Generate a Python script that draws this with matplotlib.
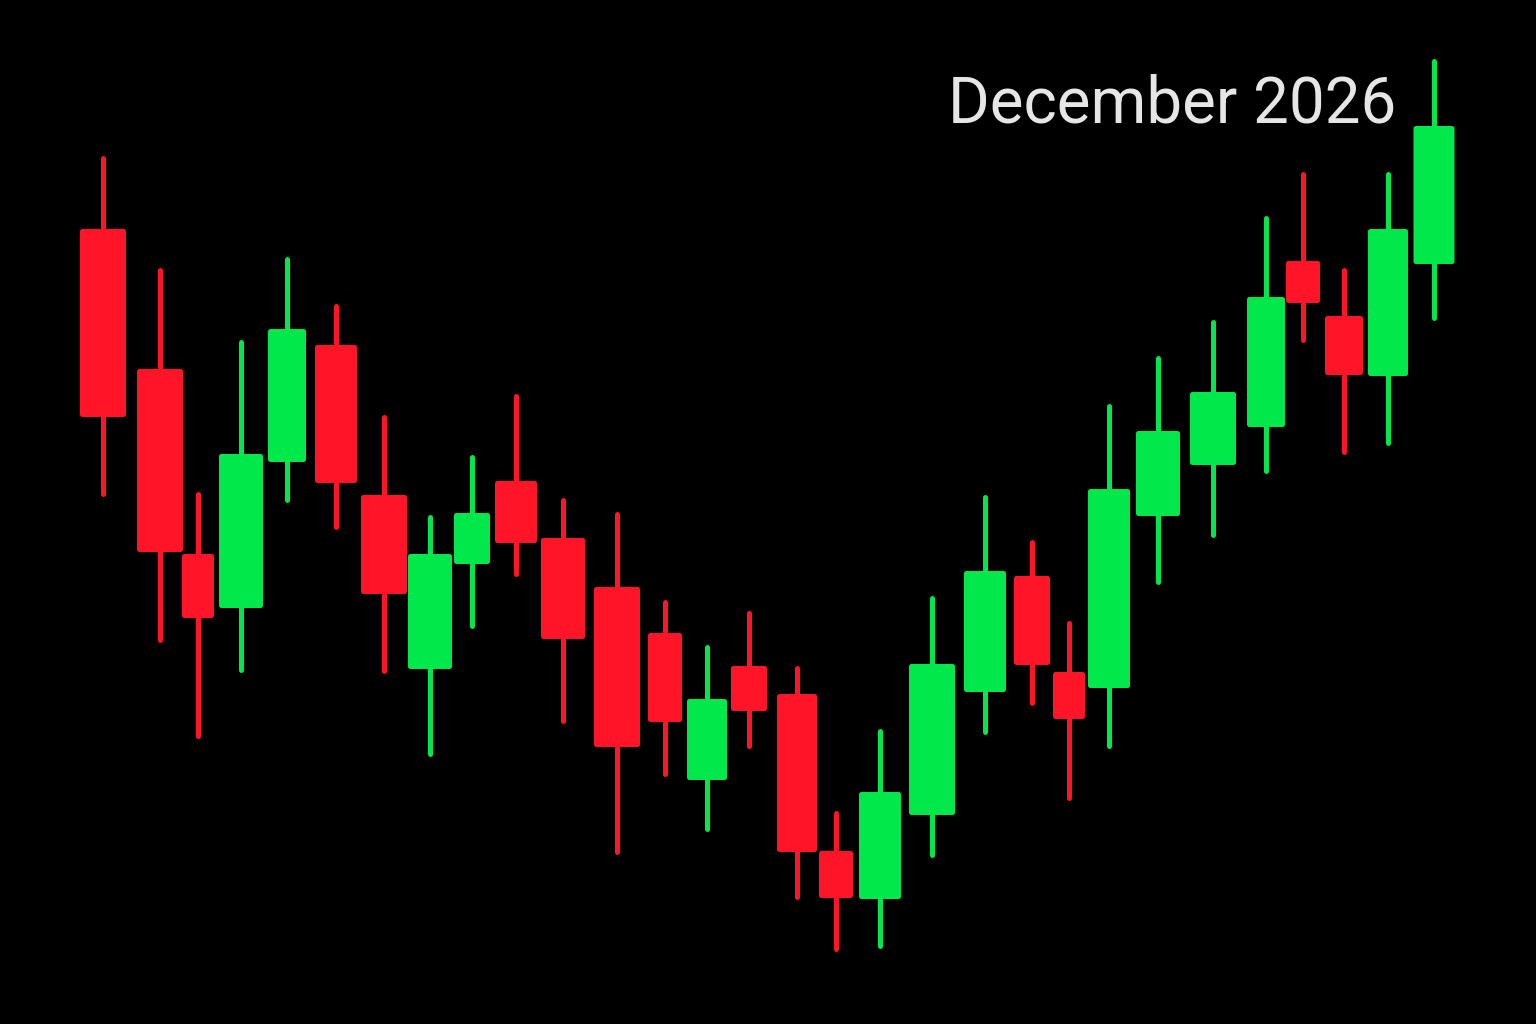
import matplotlib
matplotlib.use("Agg")
import matplotlib.pyplot as plt
from matplotlib.patches import FancyBboxPatch

# Candle positions (x), body widths, and OHLC prices
x_pos = [10.3, 16.0, 19.8, 24.1, 28.7, 33.6, 38.4, 43.0, 47.2, 51.6,
         56.3, 61.7, 66.5, 70.7, 74.9, 79.7, 83.6, 88.0, 93.2, 98.5,
         103.2, 106.9, 110.9, 115.8, 121.3, 126.6, 130.3, 134.4, 138.8, 143.4]
widths = [4.6, 4.6, 3.2, 4.4, 3.8, 4.2, 4.6, 4.4, 3.6, 4.2,
          4.4, 4.6, 3.4, 4.0, 3.6, 4.0, 3.4, 4.2, 4.6, 4.2,
          3.6, 3.2, 4.2, 4.4, 4.6, 3.8, 3.4, 3.8, 4.0, 4.1]
opens = [79.5, 65.5, 47.0, 41.6, 56.2, 67.9, 52.9, 35.5, 46.0, 54.3,
         48.6, 43.7, 39.1, 24.4, 35.8, 33.0, 17.3, 12.5, 20.9, 33.2,
         44.8, 35.2, 33.6, 50.8, 55.9, 59.7, 76.3, 70.8, 64.8, 76.0]
highs = [86.6, 75.4, 53.0, 68.2, 76.5, 71.8, 60.7, 50.7, 56.7, 62.8,
         52.4, 51.0, 42.2, 37.7, 41.1, 35.6, 21.1, 29.3, 42.6, 52.7,
         48.2, 40.1, 61.8, 66.6, 70.2, 80.6, 85.0, 75.4, 85.0, 96.3]
lows = [53.0, 38.4, 28.8, 35.4, 52.4, 49.7, 35.3, 27.0, 39.8, 45.0,
        30.3, 17.2, 25.0, 19.5, 27.8, 12.7, 7.5, 7.8, 16.9, 29.2,
        32.1, 22.6, 27.8, 44.2, 48.9, 55.3, 68.4, 57.2, 58.1, 70.6]
closes = [60.7, 47.2, 40.6, 57.0, 69.5, 54.1, 43.0, 47.0, 51.1, 48.1,
          38.5, 27.7, 30.2, 32.5, 31.3, 17.2, 12.6, 23.2, 36.0, 45.3,
          35.9, 30.5, 53.5, 59.3, 63.2, 72.7, 72.1, 64.9, 79.5, 89.8]
title = "December 2026"

RED = "#FF1428"
GREEN = "#00E84A"

fig = plt.figure(figsize=(15.36, 10.24), dpi=100, facecolor="black")
ax = fig.add_axes([0, 0, 1, 1])
ax.set_facecolor("black")
ax.set_xlim(0, 153.6)
ax.set_ylim(0, 102.4)
ax.axis("off")

for x, w, o, h, l, c in zip(x_pos, widths, opens, highs, lows, closes):
    col = GREEN if c >= o else RED
    ax.vlines(x, l, h, colors=col, linewidth=3.6, capstyle="round", zorder=2)
    bottom = min(o, c)
    height = abs(c - o)
    patch = FancyBboxPatch((x - w / 2, bottom), w, height,
                           boxstyle="round,pad=0,rounding_size=0.25",
                           facecolor=col, edgecolor="none", zorder=3,
                           mutation_aspect=1)
    ax.add_patch(patch)

fig.text(0.9089, 0.8799, title, ha="right", va="baseline",
         fontsize=45.8, color="#E6E6E6", family=["Roboto", "DejaVu Sans"])

fig.savefig("out.png", dpi=100, facecolor="black")
